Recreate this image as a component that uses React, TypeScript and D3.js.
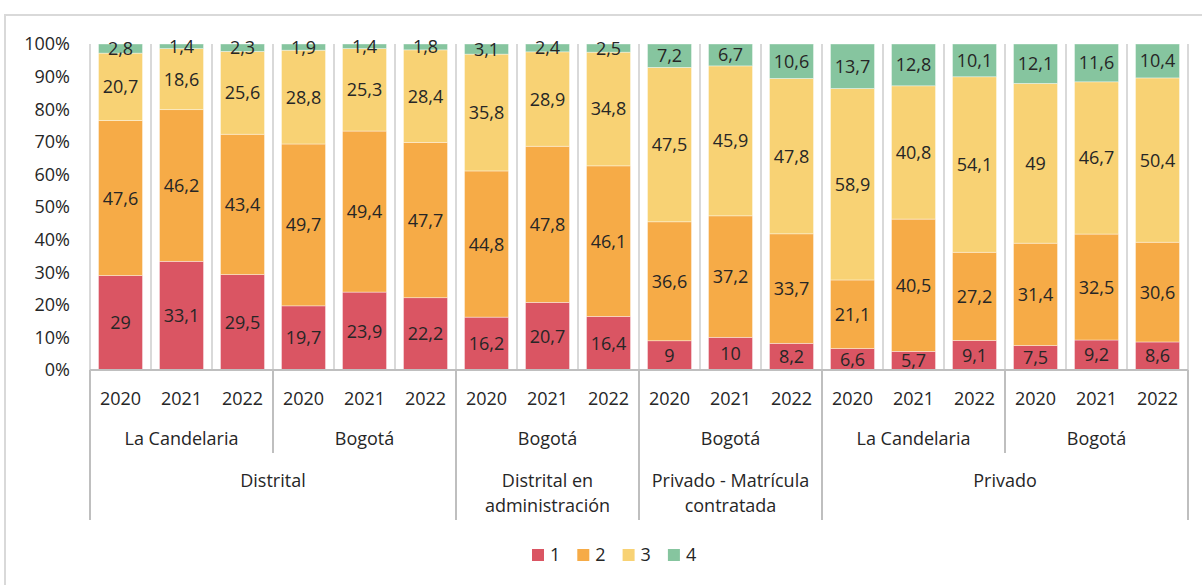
import React from "react";
import * as d3 from "d3";

const years = ["2020", "2021", "2022"];
const level2 = [
  { label: "La Candelaria", start: 0, end: 3 },
  { label: "Bogotá", start: 3, end: 6 },
  { label: "Bogotá", start: 6, end: 9 },
  { label: "Bogotá", start: 9, end: 12 },
  { label: "La Candelaria", start: 12, end: 15 },
  { label: "Bogotá", start: 15, end: 18 },
];
const level3 = [
  { lines: ["Distrital"], start: 0, end: 6 },
  { lines: ["Distrital en", "administración"], start: 6, end: 9 },
  { lines: ["Privado - Matrícula", "contratada"], start: 9, end: 12 },
  { lines: ["Privado"], start: 12, end: 18 },
];
const seriesNames = ["1", "2", "3", "4"];
const s1 = [29, 33.1, 29.5, 19.7, 23.9, 22.2, 16.2, 20.7, 16.4, 9, 10, 8.2, 6.6, 5.7, 9.1, 7.5, 9.2, 8.6];
const s2 = [47.6, 46.2, 43.4, 49.7, 49.4, 47.7, 44.8, 47.8, 46.1, 36.6, 37.2, 33.7, 21.1, 40.5, 27.2, 31.4, 32.5, 30.6];
const s3 = [20.7, 18.6, 25.6, 28.8, 25.3, 28.4, 35.8, 28.9, 34.8, 47.5, 45.9, 47.8, 58.9, 40.8, 54.1, 49, 46.7, 50.4];
const s4 = [2.8, 1.4, 2.3, 1.9, 1.4, 1.8, 3.1, 2.4, 2.5, 7.2, 6.7, 10.6, 13.7, 12.8, 10.1, 12.1, 11.6, 10.4];
const yTicks = [0, 0.1, 0.2, 0.3, 0.4, 0.5, 0.6, 0.7, 0.8, 0.9, 1];
const colors = ["#DA5563", "#F6AB47", "#F8D274", "#86C59F"];

const FONT = "'Open Sans', sans-serif";
const FS = 18;
const TXT = "#262626";

export default function App() {
  const W = 1202, H = 585;
  const x0 = 90, x1 = 1188, yTop = 44, yBot = 370;
  const n = s1.length;
  const idx = d3.range(n);
  const x = d3.scaleBand<number>().domain(idx).range([x0, x1]).paddingInner(17 / 61).paddingOuter(17 / 122);
  const xb = d3.scaleLinear().domain([0, n]).range([x0, x1]);
  const y = d3.scaleLinear().domain([0, 1]).range([yBot, yTop]);
  const series = [s1, s2, s3, s4];
  const rows = idx.map((i) => {
    const o: any = { i };
    series.forEach((s, k) => (o[seriesNames[k]] = s[i]));
    return o;
  });
  const stacked = d3.stack<any>().keys(seriesNames).offset(d3.stackOffsetExpand)(rows);
  const fmt = (v: number) => String(v).replace(".", ",");
  const gridColor = "#d9d9d9";
  const axisColor = "#bfbfbf";
  const top3 = [0, 6, 9, 12, 18];
  const top2 = [3, 15];

  return (
    <svg width={W} height={H} style={{ display: "block", position: "absolute", left: 0, top: 0 }}>
      <rect x={0} y={0} width={W} height={H} fill="#fff" />
      <rect x={5} y={15} width={W + 20} height={H + 20} fill="none" stroke={gridColor} strokeWidth={2} />
      {d3.range(n + 1).map((b) => (
        <line key={"g" + b} x1={xb(b)} x2={xb(b)} y1={yTop} y2={yBot} stroke={gridColor} strokeWidth={2} />
      ))}
      {stacked.map((layer, k) =>
        layer.map((d, i) => (
          <rect
            key={k + "-" + i}
            x={x(i)}
            width={x.bandwidth()}
            y={y(d[1])}
            height={y(d[0]) - y(d[1])}
            fill={colors[k]}
            stroke="#ffffff"
            strokeOpacity={0.5}
            strokeWidth={0.75}
          />
        ))
      )}
      {stacked.map((layer, k) =>
        layer.map((d, i) => (
          <text
            key={"l" + k + "-" + i}
            x={(x(i) as number) + x.bandwidth() / 2}
            y={(y(d[0]) + y(d[1])) / 2}
            dy="0.36em"
            textAnchor="middle"
            fontFamily={FONT}
            fontSize={FS}
            fill={TXT}
          >
            {fmt(series[k][i])}
          </text>
        ))
      )}
      {yTicks.map((t) => (
        <text key={"y" + t} x={70} y={y(t)} dy="0.36em" textAnchor="end" fontFamily={FONT} fontSize={FS} fill={TXT}>
          {Math.round(t * 100) + "%"}
        </text>
      ))}
      <line x1={x0} x2={x1} y1={yBot} y2={yBot} stroke={axisColor} strokeWidth={2} />
      {top3.map((b) => (
        <line key={"t3" + b} x1={xb(b)} x2={xb(b)} y1={yBot} y2={520} stroke={axisColor} strokeWidth={2} />
      ))}
      {top2.map((b) => (
        <line key={"t2" + b} x1={xb(b)} x2={xb(b)} y1={yBot} y2={453} stroke={axisColor} strokeWidth={2} />
      ))}
      {idx.map((i) => (
        <text key={"yr" + i} x={(x(i) as number) + x.bandwidth() / 2} y={405} textAnchor="middle" fontFamily={FONT} fontSize={FS} fill={TXT}>
          {years[i % 3]}
        </text>
      ))}
      {level2.map((g, j) => (
        <text key={"l2" + j} x={(xb(g.start) + xb(g.end)) / 2} y={445} textAnchor="middle" fontFamily={FONT} fontSize={FS} fill={TXT}>
          {g.label}
        </text>
      ))}
      {level3.map((g, j) =>
        g.lines.map((ln, m) => (
          <text key={"l3" + j + m} x={(xb(g.start) + xb(g.end)) / 2} y={487 + m * 25} textAnchor="middle" fontFamily={FONT} fontSize={FS} fill={TXT}>
            {ln}
          </text>
        ))
      )}
      {seriesNames.map((s, k) => (
        <g key={"lg" + k} transform={`translate(${532 + k * 45.3},549)`}>
          <rect width={12} height={12} fill={colors[k]} />
          <text x={18} y={6} dy="0.36em" fontFamily={FONT} fontSize={FS} fill={TXT}>
            {s}
          </text>
        </g>
      ))}
    </svg>
  );
}
